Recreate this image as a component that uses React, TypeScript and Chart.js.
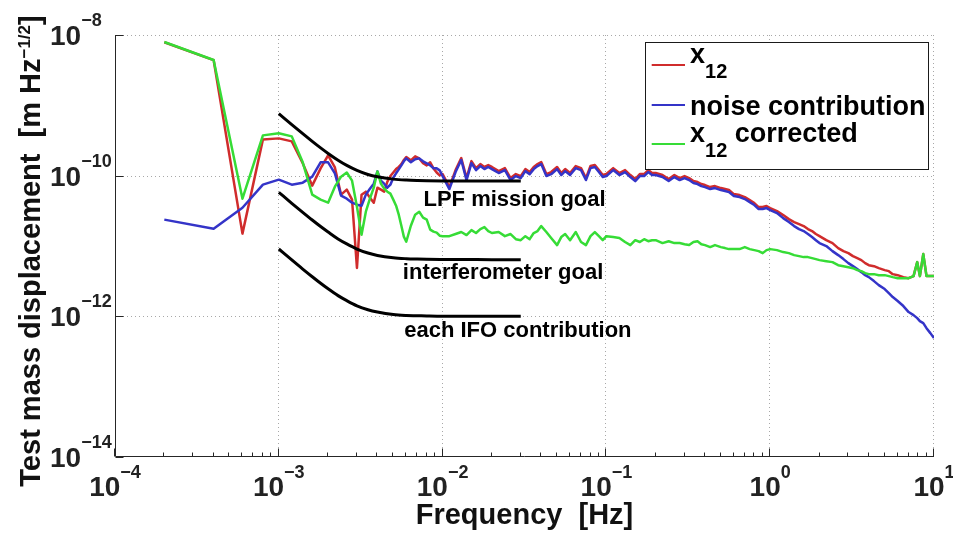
import React, { useEffect, useRef } from "react";
import { Chart, registerables } from "chart.js";

Chart.register(...registerables);

// ---------------- data ----------------
const frequencyHz = [
  0.0002, 0.0004, 0.0006, 0.0008, 0.001, 0.0012, 0.0014, 0.0016, 0.0018, 0.002,
  0.0022, 0.0024, 0.0026, 0.0028, 0.003, 0.0032, 0.0034, 0.0036, 0.0038, 0.004,
  0.0042, 0.0044, 0.0046, 0.0048, 0.005, 0.0052, 0.0054, 0.0056, 0.0058, 0.006,
  0.0064, 0.0068, 0.0072, 0.0076, 0.008, 0.0084, 0.0088, 0.0092, 0.0096,
  0.01, 0.011, 0.012, 0.013, 0.014, 0.015, 0.016, 0.017, 0.018, 0.019,
  0.02, 0.022, 0.024, 0.026, 0.028, 0.03, 0.032, 0.034, 0.036, 0.038,
  0.04, 0.043, 0.046, 0.05, 0.053, 0.056, 0.06, 0.065, 0.07, 0.075, 0.08, 0.085, 0.09, 0.095,
  0.1, 0.11, 0.12, 0.13, 0.14, 0.15, 0.16, 0.17, 0.18, 0.19,
  0.2, 0.22, 0.24, 0.26, 0.28, 0.3, 0.32, 0.34, 0.36, 0.38,
  0.4, 0.43, 0.46, 0.5, 0.53, 0.56, 0.6, 0.65, 0.7, 0.75, 0.8, 0.85, 0.9, 0.95,
  1, 1.1, 1.2, 1.3, 1.4, 1.5, 1.6, 1.7, 1.8, 1.9,
  2, 2.2, 2.4, 2.6, 2.8, 3, 3.2, 3.4, 3.6, 3.8,
  4, 4.3, 4.6, 5, 5.3, 5.6, 6, 6.5, 7, 7.5, 7.9, 8.2, 8.6, 9, 9.5, 10,
];

const x12 = [
  7.9e-9, 4.4e-9, 1.5e-11, 3.28e-10, 3.39e-10, 3.07e-10, 1.5e-10, 7.21e-11, 1.27e-10, 1.94e-10,
  1.31e-10, 5.37e-11, 6.32e-11, 4.56e-11, 4.87e-12, 5.37e-11, 5.92e-11, 4.87e-11, 4.13e-11, 6.75e-11,
  6.32e-11, 5.92e-11, 8.22e-11, 9.87e-11, 1.11e-10, 1.24e-10, 1.33e-10, 1.46e-10, 1.67e-10, 1.84e-10,
  1.65e-10, 1.88e-10, 1.76e-10, 1.5e-10, 1.4e-10, 1.55e-10, 1.27e-10, 1.11e-10, 1.01e-10,
  1.054e-10, 6.88e-11, 1.2e-10, 1.78e-10, 9.24e-11, 1.61e-10, 1.28e-10, 1.46e-10, 1.33e-10, 1.415e-10,
  1.33e-10, 1.16e-10, 1.28e-10, 9.24e-11, 1.054e-10, 9.87e-11, 1.24e-10, 1.125e-10, 1.33e-10, 1.46e-10,
  1.56e-10, 1.054e-10, 1.125e-10, 1.33e-10, 1.09e-10, 1.24e-10, 1.09e-10, 1.37e-10, 1.28e-10, 9.24e-11,
  1.37e-10, 1.415e-10, 1.2e-10, 1.02e-10,
  1.054e-10, 1.28e-10, 1.09e-10, 1.2e-10, 1.02e-10, 8.95e-11, 1.054e-10, 1.054e-10, 1.2e-10, 1.09e-10,
  1.09e-10, 1.02e-10, 8.95e-11, 1.02e-10, 9.24e-11, 9.87e-11, 9.24e-11, 8.38e-11, 8.11e-11, 7.6e-11,
  7.35e-11, 6.88e-11, 7.11e-11, 6.66e-11, 6.45e-11, 6.24e-11, 5.47e-11, 5.3e-11, 4.96e-11, 4.5e-11,
  4.08e-11, 3.58e-11, 3.58e-11, 3.7e-11,
  3.46e-11, 3.14e-11, 2.75e-11, 2.41e-11, 2.19e-11, 2.05e-11, 1.92e-11, 1.74e-11, 1.63e-11, 1.48e-11,
  1.38e-11, 1.21e-11, 1.1e-11, 9.34e-12, 8.46e-12, 7.92e-12, 7.18e-12, 6.72e-12, 6.3e-12, 5.71e-12,
  5.34e-12, 5.17e-12, 4.84e-12, 4.54e-12, 4.39e-12, 3.98e-12, 3.85e-12, 3.61e-12, 3.49e-12, 3.73e-12,
  5.9e-12, 3.73e-12, 7.67e-12, 3.73e-12, 3.73e-12, 3.73e-12,
];

const noiseContribution = [
  2.37e-11, 1.76e-11, 3.5e-11, 7.45e-11, 8.77e-11, 7.45e-11, 7.95e-11, 9.68e-11, 1.55e-10, 1.55e-10,
  1.08e-10, 5.19e-11, 4.71e-11, 4.13e-11, 3.87e-11, 3.74e-11, 5.37e-11, 6.53e-11, 7.7e-11, 1.15e-10,
  8.49e-11, 7.7e-11, 6.75e-11, 7.45e-11, 9.37e-11, 1.08e-10, 1.23e-10, 1.4e-10, 1.6e-10, 1.76e-10,
  1.55e-10, 1.71e-10, 1.76e-10, 1.6e-10, 1.5e-10, 1.4e-10, 1.27e-10, 1.27e-10, 1.19e-10,
  9.87e-11, 6.45e-11, 1.125e-10, 1.67e-10, 8.66e-11, 1.51e-10, 1.2e-10, 1.37e-10, 1.24e-10, 1.33e-10,
  1.24e-10, 1.09e-10, 1.2e-10, 8.66e-11, 9.87e-11, 9.24e-11, 1.16e-10, 1.05e-10, 1.24e-10, 1.37e-10,
  1.46e-10, 9.87e-11, 1.05e-10, 1.24e-10, 1.02e-10, 1.16e-10, 1.02e-10, 1.28e-10, 1.2e-10, 8.66e-11,
  1.28e-10, 1.33e-10, 1.125e-10, 9.55e-11,
  9.87e-11, 1.2e-10, 1.02e-10, 1.125e-10, 9.55e-11, 8.38e-11, 9.87e-11, 9.87e-11, 1.125e-10, 1.02e-10,
  1.02e-10, 9.55e-11, 8.38e-11, 9.55e-11, 8.66e-11, 9.24e-11, 8.66e-11, 7.85e-11, 7.6e-11, 7.11e-11,
  6.88e-11, 6.45e-11, 6.66e-11, 6.24e-11, 6.04e-11, 5.84e-11, 5.13e-11, 4.96e-11, 4.65e-11, 4.21e-11,
  3.82e-11, 3.35e-11, 3.35e-11, 3.46e-11,
  3.24e-11, 2.94e-11, 2.49e-11, 2.19e-11, 1.92e-11, 1.74e-11, 1.63e-11, 1.48e-11, 1.34e-11, 1.21e-11,
  1.1e-11, 9.97e-12, 8.46e-12, 7.42e-12, 6.51e-12, 5.71e-12, 5.17e-12, 4.69e-12, 4.25e-12, 3.85e-12,
  3.61e-12, 3.17e-12, 2.78e-12, 2.44e-12, 2.14e-12, 1.88e-12, 1.65e-12, 1.4e-12, 1.15e-12, 1.04e-12,
  9.43e-13, 8.55e-13, 8.0e-13, 6.79e-13, 5.77e-13, 4.9e-13,
];

const x12Corrected = [
  7.95e-9, 4.41e-9, 4.71e-11, 3.74e-10, 4.0e-10, 3.62e-10, 1.55e-10, 5.37e-11, 4.56e-11, 4.13e-11,
  6.98e-11, 9.68e-11, 1.11e-10, 8.49e-11, 3.62e-11, 1.45e-11, 3.07e-11, 4.71e-11, 6.75e-11, 1.15e-10,
  7.7e-11, 6.53e-11, 5.92e-11, 5.55e-11, 4.56e-11, 3.74e-11, 2.79e-11, 1.94e-11, 1.36e-11, 1.15e-11,
  1.94e-11, 2.79e-11, 3.07e-11, 2.53e-11, 2.37e-11, 1.71e-11, 1.6e-11, 1.55e-11, 1.4e-11,
  1.38e-11, 1.38e-11, 1.48e-11, 1.58e-11, 1.43e-11, 1.68e-11, 1.53e-11, 1.74e-11, 1.86e-11, 1.63e-11,
  1.53e-11, 1.58e-11, 1.38e-11, 1.48e-11, 1.25e-11, 1.21e-11, 1.38e-11, 1.25e-11, 1.53e-11, 1.63e-11,
  1.92e-11, 1.58e-11, 1.3e-11, 1.03e-11, 1.34e-11, 1.48e-11, 1.21e-11, 1.58e-11, 1.14e-11, 1.03e-11,
  1.38e-11, 1.58e-11, 1.38e-11, 1.21e-11,
  1.38e-11, 1.34e-11, 1.3e-11, 1.14e-11, 1.03e-11, 1.21e-11, 1.14e-11, 1.25e-11, 1.17e-11, 1.21e-11,
  1.21e-11, 1.1e-11, 1.17e-11, 1.1e-11, 1.1e-11, 1.06e-11, 1.03e-11, 1.14e-11, 1.17e-11, 1.06e-11,
  1.03e-11, 9.64e-12, 1.03e-11, 9.64e-12, 9.34e-12, 9.03e-12, 9.03e-12, 9.03e-12, 9.64e-12, 9.03e-12,
  8.74e-12, 8.46e-12, 7.92e-12, 8.74e-12,
  9.03e-12, 8.74e-12, 8.19e-12, 7.92e-12, 7.42e-12, 7.18e-12, 6.95e-12, 6.95e-12, 6.72e-12, 6.51e-12,
  6.3e-12, 6.09e-12, 5.9e-12, 5.34e-12, 5.17e-12, 5.0e-12, 4.84e-12, 4.54e-12, 4.39e-12, 4.11e-12,
  3.98e-12, 3.98e-12, 3.85e-12, 3.85e-12, 3.73e-12, 3.61e-12, 3.49e-12, 3.49e-12, 3.49e-12, 3.73e-12,
  5.9e-12, 3.73e-12, 7.67e-12, 3.73e-12, 3.73e-12, 3.73e-12,
];

const goalFrequencyHz = [
  0.001, 0.0012, 0.0014, 0.0016, 0.0018, 0.002, 0.0023, 0.0026, 0.003, 0.0035,
  0.004, 0.005, 0.006, 0.007, 0.008, 0.01, 0.015, 0.02, 0.03,
];
const lpfMissionGoal = [
  7.61e-10, 5.32e-10, 3.95e-10, 3.07e-10, 2.48e-10, 2.07e-10, 1.66e-10, 1.4e-10, 1.19e-10, 1.04e-10,
  9.63e-11, 8.93e-11, 8.66e-11, 8.54e-11, 8.48e-11, 8.43e-11, 8.41e-11, 8.4e-11, 8.4e-11,
];
const interferometerGoal = [
  5.8e-11, 4.05e-11, 3.01e-11, 2.34e-11, 1.89e-11, 1.58e-11, 1.26e-11, 1.07e-11, 9.05e-12, 7.94e-12,
  7.34e-12, 6.8e-12, 6.6e-12, 6.51e-12, 6.46e-12, 6.43e-12, 6.41e-12, 6.4e-12, 6.4e-12,
];
const ifoContribution = [
  9.06e-12, 6.33e-12, 4.7e-12, 3.66e-12, 2.95e-12, 2.46e-12, 1.97e-12, 1.67e-12, 1.41e-12, 1.24e-12,
  1.15e-12, 1.06e-12, 1.03e-12, 1.02e-12, 1.01e-12, 1.0e-12, 1.0e-12, 1.0e-12, 1.0e-12,
];

const xTickExponents = [-4, -3, -2, -1, 0, 1];
const yTickExponents = [-8, -10, -12, -14];
const xGridExponents = [-3, -2, -1, 0, 1];
const yGridExponents = [-8, -10, -12];
const minorMultipliers = [2, 3, 4, 5, 6, 7, 8, 9];

const goalLabels = [
  { text: "LPF mission goal", frequency: 0.0275, value: 3.7e-11 },
  { text: "interferometer goal", frequency: 0.0234, value: 3.44e-12 },
  { text: "each IFO contribution", frequency: 0.0288, value: 5.14e-13 },
];

// ---------------- styles ----------------
const RED = "#d02c2c";
const BLUE = "#3434c8";
const GREEN = "#36dc36";
const FONT = '"Liberation Sans", Arial, Helvetica, sans-serif';
const TEXT = "#111111";

const pts = (xs: number[], ys: number[]) => xs.map((x, i) => ({ x, y: ys[i] }));

const supText = (e: number) => (e < 0 ? "\u2212" + String(-e) : String(e));

function drawPower(ctx: CanvasRenderingContext2D, e: number, x: number, baseY: number, supY: number, align: "center" | "left") {
  ctx.font = `bold 28px ${FONT}`;
  const wb = ctx.measureText("10").width;
  ctx.font = `bold 18px ${FONT}`;
  const sup = supText(e);
  const ws = ctx.measureText(sup).width;
  const left = align === "center" ? x - (wb + ws) / 2 : x;
  ctx.textAlign = "left";
  ctx.textBaseline = "alphabetic";
  ctx.font = `bold 28px ${FONT}`;
  ctx.fillText("10", left, baseY);
  ctx.font = `bold 18px ${FONT}`;
  ctx.fillText(sup, left + wb, supY);
}

const decorPlugin = {
  id: "decor",
  beforeDatasetsDraw(chart: any) {
    const { ctx, chartArea: a, scales } = chart;
    const xs = scales.x;
    const ys = scales.y;
    ctx.save();
    ctx.strokeStyle = "#a8a8a8";
    ctx.lineWidth = 1;
    ctx.setLineDash([1, 3]);
    for (const e of xGridExponents) {
      const px = Math.round(xs.getPixelForValue(Math.pow(10, e))) - 0.5;
      ctx.beginPath();
      ctx.moveTo(px, a.top);
      ctx.lineTo(px, a.bottom);
      ctx.stroke();
    }
    for (const e of yGridExponents) {
      const py = Math.round(ys.getPixelForValue(Math.pow(10, e))) + 0.5;
      ctx.beginPath();
      ctx.moveTo(a.left, py);
      ctx.lineTo(a.right, py);
      ctx.stroke();
    }
    ctx.restore();
  },
  afterDatasetsDraw(chart: any) {
    const { ctx, chartArea: a, scales } = chart;
    const xs = scales.x;
    const ys = scales.y;
    ctx.save();
    // axes lines
    ctx.strokeStyle = "#262626";
    ctx.lineWidth = 1;
    ctx.setLineDash([]);
    const L = Math.round(a.left) + 0.5;
    const B = Math.round(a.bottom) - 0.5;
    ctx.beginPath();
    ctx.moveTo(L, a.top);
    ctx.lineTo(L, B);
    ctx.lineTo(a.right, B);
    ctx.stroke();
    // ticks
    ctx.beginPath();
    for (const e of xTickExponents) {
      const px = Math.round(xs.getPixelForValue(Math.pow(10, e))) - 0.5;
      ctx.moveTo(px, B);
      ctx.lineTo(px, B - 8);
      if (e < 1) {
        for (const m of minorMultipliers) {
          const mx = Math.round(xs.getPixelForValue(m * Math.pow(10, e))) - 0.5;
          ctx.moveTo(mx, B);
          ctx.lineTo(mx, B - 4);
        }
      }
    }
    for (const e of yTickExponents) {
      const py = Math.round(ys.getPixelForValue(Math.pow(10, e))) + 0.5;
      ctx.moveTo(L, py);
      ctx.lineTo(L + 8, py);
    }
    ctx.stroke();

    // tick labels
    ctx.fillStyle = "#222222";
    for (const e of xTickExponents) {
      const px = xs.getPixelForValue(Math.pow(10, e));
      drawPower(ctx, e, px, a.bottom + 39, a.bottom + 21, "center");
    }
    for (const e of yTickExponents) {
      const py = ys.getPixelForValue(Math.pow(10, e));
      drawPower(ctx, e, a.left - 65, py + 10, py - 9, "left");
    }

    // x title
    ctx.fillStyle = TEXT;
    ctx.font = `bold 29px ${FONT}`;
    ctx.textAlign = "center";
    ctx.fillText("Frequency  [Hz]", (a.left + a.right) / 2, a.bottom + 67);

    // y title
    ctx.save();
    ctx.translate(a.left - 75, (a.top + a.bottom) / 2 + 5);
    ctx.rotate(-Math.PI / 2);
    const p1 = "Test mass displacement  [m Hz";
    const p2 = "\u22121/2";
    const p3 = "]";
    ctx.font = `bold 29px ${FONT}`;
    const w1 = ctx.measureText(p1).width;
    const w3 = ctx.measureText(p3).width;
    ctx.font = `bold 17px ${FONT}`;
    const w2 = ctx.measureText(p2).width;
    let sx = -(w1 + w2 + w3) / 2;
    ctx.textAlign = "left";
    ctx.font = `bold 29px ${FONT}`;
    ctx.fillText(p1, sx, 0);
    sx += w1;
    ctx.font = `bold 17px ${FONT}`;
    ctx.fillText(p2, sx, -10);
    sx += w2;
    ctx.font = `bold 29px ${FONT}`;
    ctx.fillText(p3, sx, 0);
    ctx.restore();

    // goal labels
    ctx.fillStyle = "#000000";
    ctx.font = `bold 22px ${FONT}`;
    ctx.textAlign = "center";
    for (const g of goalLabels) {
      ctx.fillText(g.text, xs.getPixelForValue(g.frequency), ys.getPixelForValue(g.value));
    }

    // legend
    const bx = a.right - 289;
    const by = a.top + 6.7;
    const bw = 283.3;
    const bh = 126.6;
    ctx.fillStyle = "#ffffff";
    ctx.fillRect(bx, by, bw, bh);
    ctx.strokeStyle = "#1a1a1a";
    ctx.lineWidth = 1;
    ctx.strokeRect(Math.round(bx) + 0.5, Math.round(by) + 0.5, Math.round(bw), Math.round(bh));
    const rows = [
      { color: RED, ly: 23.3 },
      { color: BLUE, ly: 63.3 },
      { color: GREEN, ly: 102.3 },
    ];
    ctx.lineWidth = 2;
    for (const r of rows) {
      ctx.strokeStyle = r.color;
      ctx.beginPath();
      ctx.moveTo(bx + 6.7, by + r.ly);
      ctx.lineTo(bx + 40, by + r.ly);
      ctx.stroke();
    }
    ctx.fillStyle = "#000000";
    ctx.textAlign = "left";
    const tx = bx + 45;
    ctx.font = `bold 27px ${FONT}`;
    const wx = ctx.measureText("x").width;
    ctx.fillText("x", tx, by + 21.6);
    ctx.font = `bold 20px ${FONT}`;
    ctx.fillText("12", tx + wx, by + 36.3);
    ctx.font = `bold 27px ${FONT}`;
    ctx.fillText("noise contribution", tx, by + 73.3);
    ctx.fillText("x", tx, by + 100);
    ctx.font = `bold 20px ${FONT}`;
    const w12 = ctx.measureText("12").width;
    ctx.fillText("12", tx + wx, by + 115);
    ctx.font = `bold 27px ${FONT}`;
    ctx.fillText(" corrected", tx + wx + w12, by + 100);
    ctx.restore();
  },
};

export default function App() {
  const ref = useRef<HTMLCanvasElement | null>(null);
  useEffect(() => {
    if (!ref.current) return;
    const lineDs = (label: string, data: any[], color: string, width: number, order: number, smooth = false) => ({
      label,
      data,
      borderColor: color,
      backgroundColor: color,
      borderWidth: width,
      pointRadius: 0,
      pointHoverRadius: 0,
      fill: false,
      tension: 0,
      cubicInterpolationMode: smooth ? ("monotone" as const) : ("default" as const),
      borderJoinStyle: "round" as const,
      order,
    });
    const chart = new Chart(ref.current, {
      type: "line",
      data: {
        datasets: [
          lineDs("LPF mission goal", pts(goalFrequencyHz, lpfMissionGoal), "#000000", 3, 0, true),
          lineDs("interferometer goal", pts(goalFrequencyHz, interferometerGoal), "#000000", 3, 0, true),
          lineDs("each IFO contribution", pts(goalFrequencyHz, ifoContribution), "#000000", 3, 0, true),
          lineDs("x12 corrected", pts(frequencyHz, x12Corrected), GREEN, 2.5, 1),
          lineDs("noise contribution", pts(frequencyHz, noiseContribution), BLUE, 2.5, 2),
          lineDs("x12", pts(frequencyHz, x12), RED, 2.5, 3),
        ],
      },
      options: {
        responsive: false,
        animation: false,
        devicePixelRatio: 1,
        layout: { padding: { left: 115, right: 19, top: 35, bottom: 77 } },
        plugins: { legend: { display: false }, tooltip: { enabled: false }, title: { display: false } },
        events: [],
        scales: {
          x: { type: "logarithmic", min: 1e-4, max: 10, display: false },
          y: { type: "logarithmic", min: 1e-14, max: 1e-8, display: false },
        },
      },
      plugins: [decorPlugin],
    } as any);
    return () => chart.destroy();
  }, []);
  return (
    <div style={{ position: "fixed", left: 0, top: 0, width: 953, height: 534, background: "#ffffff" }}>
      <canvas ref={ref} width={953} height={534} style={{ display: "block", width: 953, height: 534 }} />
    </div>
  );
}
